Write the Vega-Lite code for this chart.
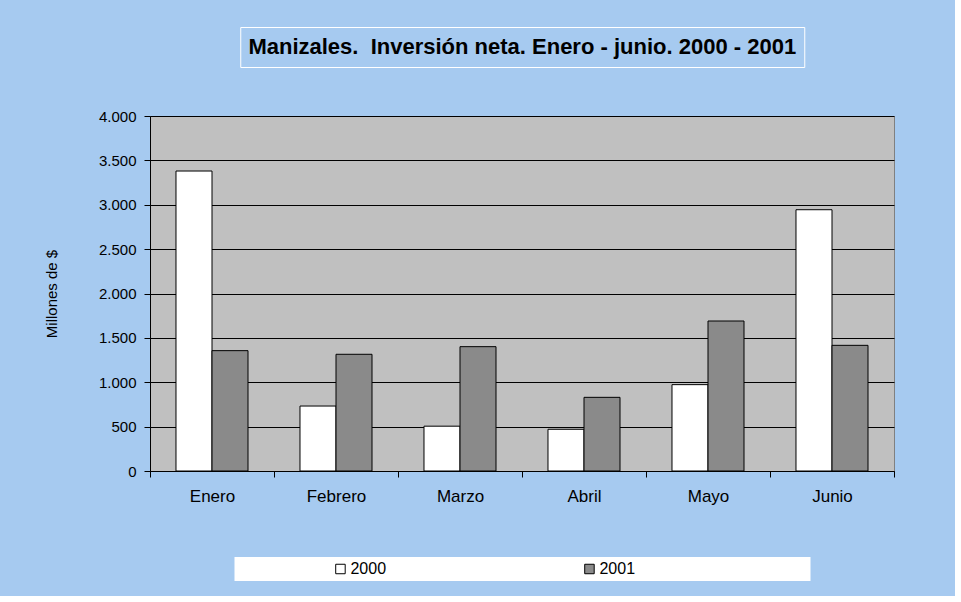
{
  "$schema": "https://vega.github.io/schema/vega-lite/v6.json",
  "background": "#A6CAF0",
  "padding": {"left": 43, "top": 26, "right": 60, "bottom": 15},
  "datasets": {
    "inversion": [
      {"mes": "Enero", "anio": "2000", "valor": 3380},
      {"mes": "Enero", "anio": "2001", "valor": 1356},
      {"mes": "Febrero", "anio": "2000", "valor": 732},
      {"mes": "Febrero", "anio": "2001", "valor": 1315},
      {"mes": "Marzo", "anio": "2000", "valor": 505},
      {"mes": "Marzo", "anio": "2001", "valor": 1401},
      {"mes": "Abril", "anio": "2000", "valor": 470},
      {"mes": "Abril", "anio": "2001", "valor": 830},
      {"mes": "Mayo", "anio": "2000", "valor": 973},
      {"mes": "Mayo", "anio": "2001", "valor": 1690},
      {"mes": "Junio", "anio": "2000", "valor": 2944},
      {"mes": "Junio", "anio": "2001", "valor": 1416}
    ],
    "leyenda": [
      {"anio": "2000"},
      {"anio": "2001"}
    ],
    "titulo": [
      {"texto": "Manizales.\u00a0 Inversión neta. Enero - junio. 2000 - 2001"}
    ]
  },
  "config": {
    "font": "Liberation Sans",
    "view": {"stroke": null},
    "locale": {"number": {"decimal": ",", "thousands": ".", "grouping": [3], "currency": ["$", ""]}},
    "axis": {
      "labelFont": "Liberation Sans",
      "titleFont": "Liberation Sans",
      "labelColor": "black",
      "titleColor": "black",
      "domainColor": "black",
      "tickColor": "black"
    }
  },
  "spacing": 40,
  "center": true,
  "vconcat": [
    {
      "width": 564,
      "height": 40,
      "view": {"fill": "#A6CAF0", "stroke": "#FFFFFF", "strokeWidth": 1},
      "data": {"name": "titulo"},
      "mark": {"type": "text", "fontSize": 22, "fontWeight": "bold", "color": "black", "font": "Liberation Sans"},
      "encoding": {"text": {"field": "texto", "type": "nominal"}}
    },
    {
      "spacing": 52,
      "center": true,
      "vconcat": [
        {
          "width": 744,
          "height": 355,
          "data": {"name": "inversion"},
          "view": {"fill": "#C0C0C0", "stroke": "#808080", "strokeWidth": 1},
          "mark": {"type": "bar", "stroke": "black", "strokeWidth": 1},
          "encoding": {
            "x": {
              "field": "mes",
              "type": "nominal",
              "sort": ["Enero", "Febrero", "Marzo", "Abril", "Mayo", "Junio"],
              "scale": {"paddingInner": 0, "paddingOuter": 0},
              "axis": {
                "title": null,
                "labelAngle": 0,
                "tickBand": "extent",
                "tickSize": 6,
                "labelPadding": 11,
                "labelFontSize": 17,
                "grid": false
              }
            },
            "xOffset": {
              "field": "anio",
              "type": "nominal",
              "scale": {"paddingInner": 0, "paddingOuter": 0.722}
            },
            "y": {
              "field": "valor",
              "type": "quantitative",
              "scale": {"domain": [0, 4000]},
              "axis": {
                "title": "Millones de $",
                "titleFontSize": 15,
                "titleFontWeight": "normal",
                "titlePadding": 39,
                "values": [0, 500, 1000, 1500, 2000, 2500, 3000, 3500, 4000],
                "format": ",.0f",
                "labelFontSize": 15,
                "labelPadding": 8,
                "tickSize": 6,
                "grid": true,
                "gridColor": "black",
                "gridOpacity": 1,
                "gridWidth": 1
              }
            },
            "fill": {
              "field": "anio",
              "type": "nominal",
              "scale": {"domain": ["2000", "2001"], "range": ["#FFFFFF", "#8A8A8A"]},
              "legend": null
            }
          }
        },
        {
          "width": 576,
          "height": 24,
          "data": {"name": "leyenda"},
          "view": {"fill": "#FFFFFF", "stroke": null},
          "encoding": {
            "x": {
              "field": "anio",
              "type": "nominal",
              "scale": {"type": "point", "padding": 0.6566, "align": 0.324},
              "axis": null
            }
          },
          "layer": [
            {
              "mark": {"type": "point", "shape": "square", "size": 90, "filled": true, "stroke": "black", "strokeWidth": 1, "opacity": 1},
              "encoding": {
                "fill": {
                  "field": "anio",
                  "type": "nominal",
                  "scale": {"domain": ["2000", "2001"], "range": ["#FFFFFF", "#8A8A8A"]},
                  "legend": null
                }
              }
            },
            {
              "mark": {"type": "text", "align": "left", "dx": 10, "fontSize": 16, "color": "black", "font": "Liberation Sans"},
              "encoding": {"text": {"field": "anio", "type": "nominal"}}
            }
          ]
        }
      ]
    }
  ]
}
